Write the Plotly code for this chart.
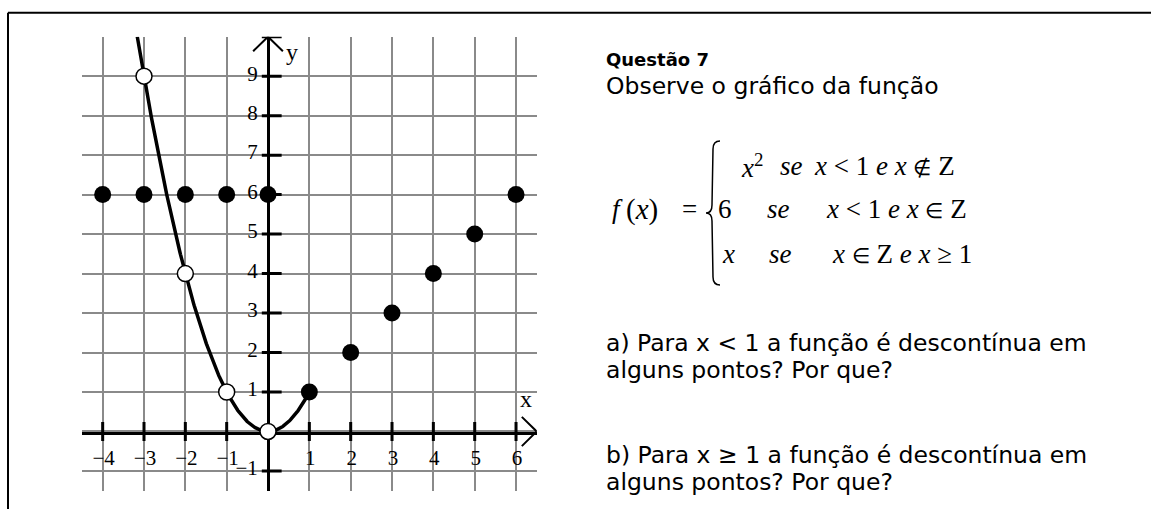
import numpy as np
import plotly.graph_objects as go

W, H = 1151, 509

# ---- data ----
X_TICKS = [-4, -3, -2, -1, 1, 2, 3, 4, 5, 6]
X_TICK_TEXT = ["\u22124", "\u22123", "\u22122", "\u22121", "1", "2", "3", "4", "5", "6"]
Y_TICKS = [-1, 1, 2, 3, 4, 5, 6, 7, 8, 9]
Y_TICK_TEXT = ["\u22121", "1", "2", "3", "4", "5", "6", "7", "8", "9"]
X_GRID = [-4, -3, -2, -1, 0, 1, 2, 3, 4, 5, 6]
Y_GRID = [-1, 0, 1, 2, 3, 4, 5, 6, 7, 8, 9, 10]

# f(x) = 6 for integer x < 1, f(x) = x for integer x >= 1
dot_x = [-4, -3, -2, -1, 0, 1, 2, 3, 4, 5, 6]
dot_y = [6, 6, 6, 6, 6, 1, 2, 3, 4, 5, 6]

# holes on the parabola at the integers
hole_x = [-3, -2, -1, 0]
hole_y = [9, 4, 1, 0]

X_RANGE = [-4.5, 6.5]
Y_RANGE = [-1.5, 10]

# parabola branch x^2 (x < 1), clipped at the top of the grid
curve_x = np.linspace(-np.sqrt(Y_RANGE[1]), 1, 300)
curve_y = curve_x ** 2


def px(x):
    return x / W


def py(y):
    return 1 - y / H


fig = go.Figure()

# parabola
fig.add_trace(go.Scatter(x=curve_x, y=curve_y, mode="lines",
                         line=dict(color="black", width=3.5), hoverinfo="skip"))

# tick marks crossing the axes
tx, ty = [], []
for v in X_TICKS:
    tx += [v, v, None]
    ty += [-0.24, 0.24, None]
for v in Y_TICKS + [Y_RANGE[1]]:
    tx += [-0.15, 0.33, None]
    ty += [v, v, None]
fig.add_trace(go.Scatter(x=tx, y=ty, mode="lines",
                         line=dict(color="black", width=3), hoverinfo="skip"))

# arrow heads at the axis ends
ax_dx, ax_dy = 0.36, 0.37
arr_x = [X_RANGE[1] - ax_dx, X_RANGE[1], X_RANGE[1] - ax_dx, None,
         -ax_dx, 0, ax_dx]
arr_y = [ax_dy, 0, -ax_dy, None,
         Y_RANGE[1] - ax_dy, Y_RANGE[1], Y_RANGE[1] - ax_dy]
fig.add_trace(go.Scatter(x=arr_x, y=arr_y, mode="lines",
                         line=dict(color="black", width=2), hoverinfo="skip"))

# filled points
fig.add_trace(go.Scatter(x=dot_x, y=dot_y, mode="markers",
                         marker=dict(size=17, color="black"), hoverinfo="skip"))

# open points
fig.add_trace(go.Scatter(x=hole_x, y=hole_y, mode="markers",
                         marker=dict(size=16, color="white",
                                     line=dict(color="black", width=1.5)),
                         hoverinfo="skip"))

serif = "Liberation Serif, Times New Roman, serif"
sans = "DejaVu Sans, Arial, sans-serif"
GRID = "#8a8a8a"

fig.update_layout(
    width=W, height=H,
    margin=dict(l=0, r=0, t=0, b=0),
    paper_bgcolor="white", plot_bgcolor="white",
    showlegend=False,
    xaxis=dict(domain=[px(82), px(536.7)], range=X_RANGE,
               tickvals=X_TICKS, ticktext=X_TICK_TEXT,
               showgrid=True, gridcolor=GRID, gridwidth=2,
               minor=dict(tickvals=X_GRID, showgrid=True,
                          gridcolor=GRID, gridwidth=2, ticks=""),
               zeroline=False, showline=True, linecolor="black", linewidth=3,
               anchor="free", position=py(432.7), layer="below traces",
               ticks="", ticklabelstandoff=5, ticklabelshift=1,
               tickfont=dict(family=serif, size=21, color="black"),
               fixedrange=True),
    yaxis=dict(domain=[py(490.7), py(36.7)], range=Y_RANGE,
               tickvals=Y_TICKS, ticktext=Y_TICK_TEXT,
               showgrid=True, gridcolor=GRID, gridwidth=2,
               minor=dict(tickvals=Y_GRID, showgrid=True,
                          gridcolor=GRID, gridwidth=2, ticks=""),
               zeroline=False, showline=True, linecolor="black", linewidth=3,
               anchor="free", position=px(268), layer="below traces",
               ticks="", ticklabelstandoff=5, ticklabelshift=-3,
               tickfont=dict(family=serif, size=21, color="black"),
               fixedrange=True),
)

# axis names
fig.add_annotation(x=0.57, y=9.6, text="y", showarrow=False,
                   font=dict(family=serif, size=24, color="black"))
fig.add_annotation(x=6.24, y=0.83, text="x", showarrow=False,
                   font=dict(family=serif, size=24, color="black"))

# frame (top and left edges)
fig.add_shape(type="line", xref="paper", yref="paper",
              x0=px(8), x1=1, y0=py(12.7), y1=py(12.7),
              line=dict(color="black", width=2))
fig.add_shape(type="line", xref="paper", yref="paper",
              x0=px(8), x1=px(8), y0=0, y1=py(12.7),
              line=dict(color="black", width=2))


def note(x, y, text, size, family=sans, anchor="left"):
    fig.add_annotation(xref="paper", yref="paper", x=px(x), y=py(y),
                       xanchor=anchor, yanchor="middle", text=text,
                       showarrow=False,
                       font=dict(family=family, size=size, color="black"))


note(604, 59, "<b>Questão 7</b>", 18)
note(604, 86, "Observe o gráfico da função", 23.5)

# piecewise definition
nb = "\u00a0"
FS = 27


def rel(sym):
    return '<span style="font-size:21px">' + sym + "</span>"


r1, r2, r3 = 166, 209, 254
note(610, r2, "<i>f</i>", FS, serif)
note(624, r2, "(<i>x</i>)", 29, serif)
note(680, r2, "=", FS, serif)
note(739, r1, "<i>x</i><sup>2</sup>", FS, serif)
note(716, r2, "6", FS, serif)
note(720, r3, "<i>x</i>", FS, serif)
note(778, r1, "<i>se</i>", FS, serif)
note(765, r2, "<i>se</i>", FS, serif)
note(767, r3, "<i>se</i>", FS, serif)
note(812, r1, "<i>x</i>" + nb + "<" + nb + "1" + nb + "<i>e</i>" + nb + "<i>x</i>" + nb + rel("\u2209") + nb + "Z", FS, serif)
note(824, r2, "<i>x</i>" + nb + "<" + nb + "1" + nb + "<i>e</i>" + nb + "<i>x</i>" + nb + rel("\u2208") + nb + "Z", FS, serif)
note(830, r3, "<i>x</i>" + nb + rel("\u2208") + nb + "Z" + nb + "<i>e</i>" + nb + "<i>x</i>" + nb + "\u2265" + nb + "1", FS, serif)

# curly brace
bx = [720, 713, 712, 706, 712, 713, 720]
by = [141, 149, 205, 213, 221, 277, 285]
path = (f"M {px(bx[0])},{py(by[0])} Q {px(bx[1])},{py(by[0])} {px(bx[1])},{py(by[1])} "
        f"L {px(bx[2])},{py(by[2])} Q {px(bx[2])},{py(by[3])} {px(bx[3])},{py(by[3])} "
        f"Q {px(bx[4])},{py(by[3])} {px(bx[4])},{py(by[4])} "
        f"L {px(bx[5])},{py(by[5])} Q {px(bx[5])},{py(by[6])} {px(bx[6])},{py(by[6])}")
fig.add_shape(type="path", xref="paper", yref="paper", path=path,
              line=dict(color="black", width=1.5))

note(604, 343, "a) Para x < 1 a função é descontínua em", 23.5)
note(604, 370, "alguns pontos? Por que?", 23.5)
note(604, 455, "b) Para x \u2265 1 a função é descontínua em", 23.5)
note(604, 482, "alguns pontos? Por que?", 23.5)

fig.write_html("out.html", config=dict(displayModeBar=False))
